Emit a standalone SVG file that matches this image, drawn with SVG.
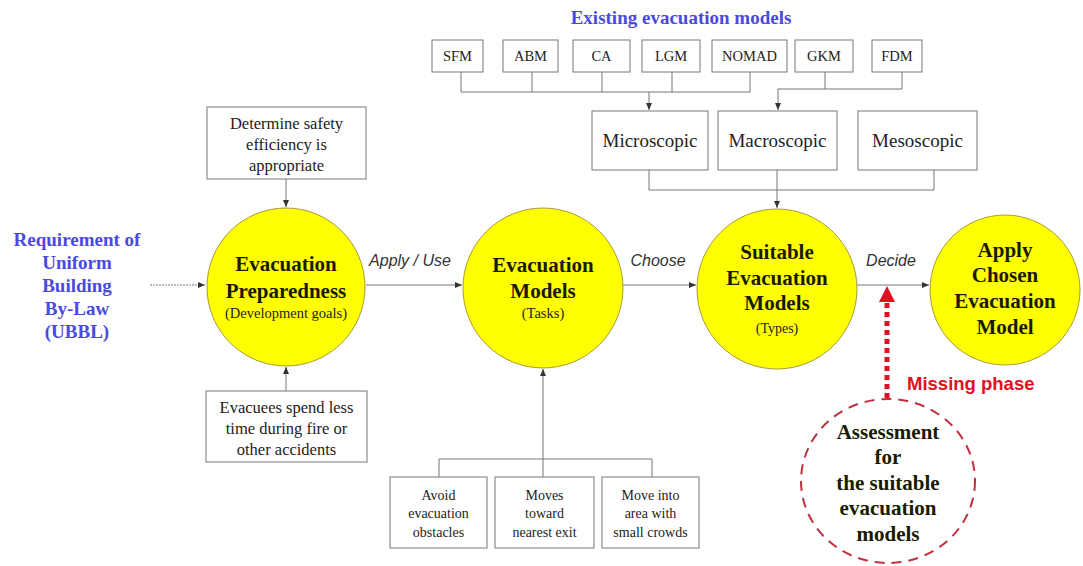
<svg xmlns="http://www.w3.org/2000/svg" width="1083" height="566" viewBox="0 0 1083 566">
<defs>
<style>
.box{fill:#fff;stroke:#777;stroke-width:1}
.ln{fill:none;stroke:#777;stroke-width:1}
.circ{fill:#ffff00;stroke:#a89a3a;stroke-width:1}
.t{font-family:"Liberation Serif",serif;fill:#222;text-anchor:middle}
.sm{font-size:14.5px}
.bt{font-family:"Liberation Serif",serif;font-weight:bold;fill:#1a1a00;text-anchor:middle;font-size:21px}
.bl{font-family:"Liberation Serif",serif;font-weight:bold;fill:#4a4ae0;text-anchor:middle;font-size:19px}
.lab{font-family:"Liberation Sans",sans-serif;font-style:italic;fill:#333;font-size:16px;text-anchor:middle}
</style>
<marker id="ar" markerWidth="8" markerHeight="8" refX="7" refY="4" orient="auto" markerUnits="userSpaceOnUse">
<path d="M0,1 L7,4 L0,7 Z" fill="#333"/>
</marker>
</defs>
<rect width="1083" height="566" fill="#fff"/>

<g id="connectors">
<line class="ln" x1="150" y1="285" x2="205" y2="285" marker-end="url(#ar)" stroke-dasharray="2,1"/>
<line class="ln" x1="366" y1="285" x2="462" y2="285" marker-end="url(#ar)"/>
<line class="ln" x1="623" y1="285" x2="696" y2="285" marker-end="url(#ar)"/>
<line class="ln" x1="857" y1="285" x2="929" y2="285" marker-end="url(#ar)"/>
<line class="ln" x1="286" y1="179" x2="286" y2="207" marker-end="url(#ar)"/>
<line class="ln" x1="286" y1="391" x2="286" y2="367" marker-end="url(#ar)"/>
<polyline class="ln" points="439,477 439,459 652,459 652,477"/>
<line class="ln" x1="543" y1="477" x2="543" y2="369" marker-end="url(#ar)"/>
<polyline class="ln" points="461,72 461,92 750,92 750,72"/>
<line class="ln" x1="532" y1="72" x2="532" y2="92"/>
<line class="ln" x1="602" y1="72" x2="602" y2="92"/>
<line class="ln" x1="672" y1="72" x2="672" y2="92"/>
<line class="ln" x1="649" y1="92" x2="649" y2="110" marker-end="url(#ar)"/>
<polyline class="ln" points="825,72 825,89 902,89 902,72"/>
<polyline class="ln" points="778,89 778,110" marker-end="url(#ar)"/>
<line class="ln" x1="778" y1="89" x2="825" y2="89"/>
<polyline class="ln" points="649,170 649,190 934,190 934,170"/>
<line class="ln" x1="777" y1="170" x2="777" y2="208" marker-end="url(#ar)"/>
<line x1="887" y1="398" x2="887" y2="300" stroke="#e01020" stroke-width="5" stroke-dasharray="5,4"/>
<path d="M879,302 L887,286 L895,302 Z" fill="#e01020"/>
</g>

<g id="labels">
<text class="lab" x="410" y="266">Apply / Use</text>
<text class="lab" x="658" y="266">Choose</text>
<text class="lab" x="891" y="266">Decide</text>
</g>

<g id="title">
<text class="bl" x="681" y="24">Existing evacuation models</text>
</g>

<g id="ubbl">
<text class="bl" x="77" y="246">Requirement of</text>
<text class="bl" x="77" y="269">Uniform</text>
<text class="bl" x="77" y="292">Building</text>
<text class="bl" x="77" y="315">By-Law</text>
<text class="bl" x="77" y="338">(UBBL)</text>
</g>

<g id="models-row">
<rect class="box" x="432" y="40" width="51" height="32"/><text class="t sm" x="457.5" y="61">SFM</text>
<rect class="box" x="503" y="40" width="55" height="32"/><text class="t sm" x="530.5" y="61">ABM</text>
<rect class="box" x="573" y="40" width="57" height="32"/><text class="t sm" x="601.5" y="61">CA</text>
<rect class="box" x="642" y="40" width="58" height="32"/><text class="t sm" x="671" y="61">LGM</text>
<rect class="box" x="712" y="40" width="75" height="32"/><text class="t sm" x="749.5" y="61">NOMAD</text>
<rect class="box" x="795" y="40" width="58" height="32"/><text class="t sm" x="824" y="61">GKM</text>
<rect class="box" x="872" y="40" width="50" height="32"/><text class="t sm" x="897" y="61">FDM</text>
</g>

<g id="types-row">
<rect class="box" x="592" y="111" width="116" height="59"/><text class="t" font-size="19" x="650" y="147">Microscopic</text>
<rect class="box" x="718" y="111" width="119" height="59"/><text class="t" font-size="19" x="777.5" y="147">Macroscopic</text>
<rect class="box" x="858" y="111" width="119" height="59"/><text class="t" font-size="19" x="917.5" y="147">Mesoscopic</text>
</g>

<g id="determine">
<rect class="box" x="207" y="107" width="159" height="72"/>
<text class="t" font-size="16.5" x="286.5" y="129">Determine safety</text>
<text class="t" font-size="16.5" x="286.5" y="150">efficiency is</text>
<text class="t" font-size="16.5" x="286.5" y="171">appropriate</text>
</g>

<g id="evacuees">
<rect class="box" x="206" y="391" width="161" height="71"/>
<text class="t" font-size="16.5" x="286.5" y="413">Evacuees spend less</text>
<text class="t" font-size="16.5" x="286.5" y="434">time during fire or</text>
<text class="t" font-size="16.5" x="286.5" y="455">other accidents</text>
</g>

<g id="tasks">
<rect class="box" x="390" y="477" width="97" height="71"/>
<text class="t" font-size="14" x="438.5" y="500">Avoid</text>
<text class="t" font-size="14" x="438.5" y="518">evacuation</text>
<text class="t" font-size="14" x="438.5" y="537">obstacles</text>
<rect class="box" x="495" y="477" width="99" height="71"/>
<text class="t" font-size="14" x="544.5" y="500">Moves</text>
<text class="t" font-size="14" x="544.5" y="518">toward</text>
<text class="t" font-size="14" x="544.5" y="537">nearest exit</text>
<rect class="box" x="602" y="477" width="97" height="71"/>
<text class="t" font-size="14" x="650.5" y="500">Move into</text>
<text class="t" font-size="14" x="650.5" y="518">area with</text>
<text class="t" font-size="14" x="650.5" y="537">small crowds</text>
</g>

<g id="prep">
<circle class="circ" cx="286" cy="287" r="79"/>
<text class="bt" x="286" y="271">Evacuation</text>
<text class="bt" x="286" y="298">Preparedness</text>
<text class="t" font-size="14.5" x="286" y="318">(Development goals)</text>
</g>

<g id="evmodels">
<circle class="circ" cx="543" cy="288" r="80"/>
<text class="bt" x="543" y="272">Evacuation</text>
<text class="bt" x="543" y="298">Models</text>
<text class="t" font-size="14.5" x="543" y="318">(Tasks)</text>
</g>

<g id="suitable">
<circle class="circ" cx="777" cy="289" r="80"/>
<text class="bt" x="777" y="259">Suitable</text>
<text class="bt" x="777" y="285">Evacuation</text>
<text class="bt" x="777" y="310">Models</text>
<text class="t" font-size="14" x="777" y="333">(Types)</text>
</g>

<g id="apply">
<circle class="circ" cx="1005" cy="290" r="75"/>
<text class="bt" x="1005" y="257">Apply</text>
<text class="bt" x="1005" y="282">Chosen</text>
<text class="bt" x="1005" y="308">Evacuation</text>
<text class="bt" x="1005" y="334">Model</text>
</g>

<g id="missing">
<text x="907" y="390" font-family="Liberation Sans,sans-serif" font-weight="bold" font-size="18.5" fill="#e01020">Missing phase</text>
</g>

<g id="assessment">
<ellipse cx="888" cy="481" rx="87" ry="82" fill="none" stroke="#c03040" stroke-width="2" stroke-dasharray="10,7"/>
<text class="bt" font-size="20" x="888" y="439">Assessment</text>
<text class="bt" font-size="20" x="888" y="464">for</text>
<text class="bt" font-size="20" x="888" y="490">the suitable</text>
<text class="bt" font-size="20" x="888" y="515">evacuation</text>
<text class="bt" font-size="20" x="888" y="541">models</text>
</g>
</svg>
